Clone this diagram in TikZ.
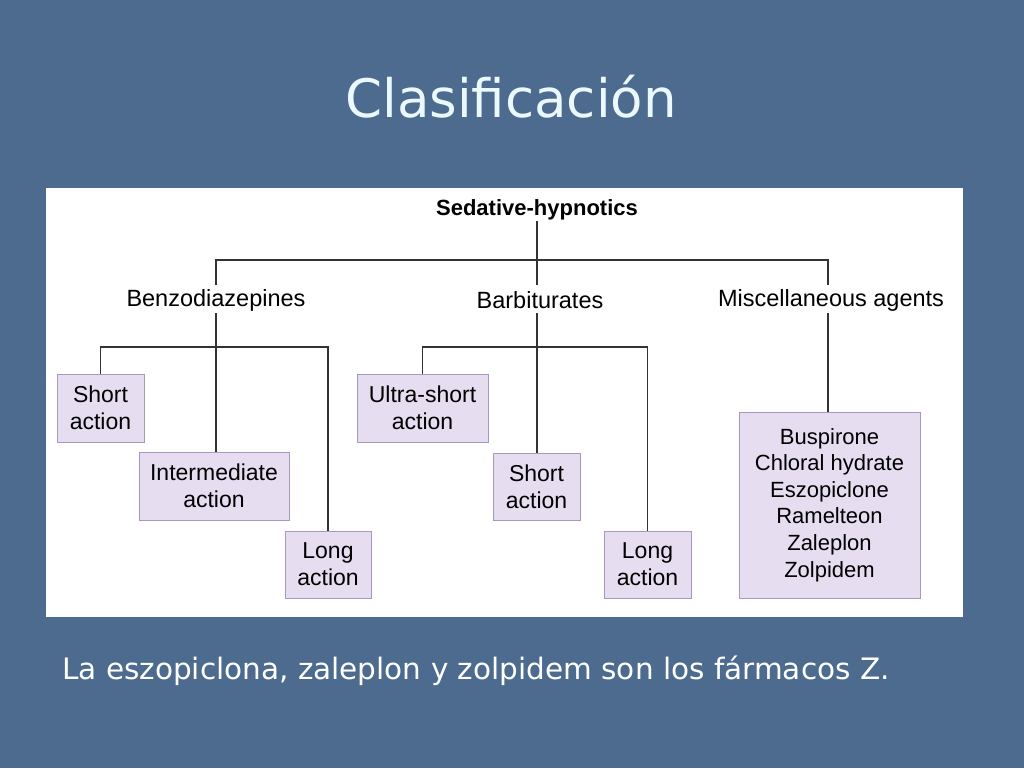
\documentclass[tikz,border=0pt]{standalone}
\usepackage{fontspec}
\setmainfont{Liberation Sans}
\newfontfamily\tah{DejaVu Sans}
\definecolor{bg}{HTML}{4C6B8F}
\definecolor{box}{HTML}{E6DEF0}
\definecolor{boxb}{HTML}{A898C0}
\begin{document}
\begin{tikzpicture}[x=1pt,y=-1pt,
  bx/.style={draw=boxb,fill=box,line width=1pt,align=center,font=\fontsize{23}{27}\selectfont,inner sep=0pt},
  lbl/.style={font=\fontsize{23.5}{27}\selectfont,inner sep=1pt},
  ln/.style={line width=1.2pt,black!80}]
\fill[bg] (0,0) rectangle (1024,768);
\useasboundingbox (0,0) rectangle (1024,768);
\node (title) [text=cyan!8,font=\tah\fontsize{53}{60}\selectfont] at (511,97) {Clasificación};
\fill[white] (46,188) rectangle (963,617);
\node (root) [lbl,font=\bfseries\fontsize{22}{27}\selectfont] at (537,210) {Sedative-hypnotics};
\node (bz) [lbl] at (216,300) {Benzodiazepines};
\node (bb) [lbl] at (540,300) {Barbiturates};
\node (mc) [lbl] at (831,300) {Miscellaneous agents};
\node (b1) [bx,minimum width=87pt,minimum height=68pt] at (100.5,408) {Short\\action};
\node (b2) [bx,minimum width=150pt,minimum height=68pt] at (214,486) {Intermediate\\action};
\node (b3) [bx,minimum width=86pt,minimum height=67pt] at (328,564.5) {Long\\action};
\node (r1) [bx,minimum width=131pt,minimum height=68pt] at (422.5,408) {Ultra-short\\action};
\node (r2) [bx,minimum width=87pt,minimum height=67pt] at (536.5,486.5) {Short\\action};
\node (r3) [bx,minimum width=87pt,minimum height=67pt] at (647.5,564.5) {Long\\action};
\node (m1) [bx,minimum width=181pt,minimum height=186pt,font=\fontsize{22}{26.6}\selectfont] at (829.5,505) {Buspirone\\Chloral hydrate\\Eszopiclone\\Ramelteon\\Zaleplon\\Zolpidem};
\draw[ln] (root.south) -- (537,260);
\draw[ln] (216,285) -- (216,260) -- (828,260) -- (828,285);
\draw[ln] (537,260) -- (537,285);
\draw[ln] (216,313) -- (216,452);
\draw[ln] (b1.north) |- (216,347) -| (b3.north);
\draw[ln] (537,313) -- (r2.north-|537,0);
\draw[ln] (r1.north) |- (537,347) -| (r3.north);
\draw[ln] (828,313) -- (m1.north-|828,0);
\node (foot) [anchor=west,text=white,font=\tah\fontsize{29.5}{34}\selectfont,inner sep=0pt] at (62,671) {La eszopiclona, zaleplon y zolpidem son los fármacos Z.};
\end{tikzpicture}
\end{document}
